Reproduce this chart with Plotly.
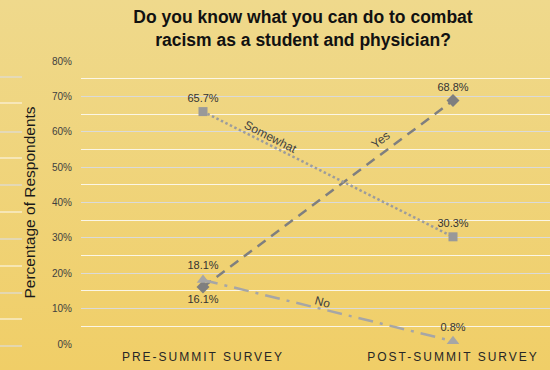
import base64
import plotly.graph_objects as go

# Survey data
stages = ["PRE-SUMMIT SURVEY", "POST-SUMMIT SURVEY"]
yes_pct = [16.1, 68.8]
somewhat_pct = [65.7, 30.3]
no_pct = [18.1, 0.8]
y_ticks = [0, 10, 20, 30, 40, 50, 60, 70, 80]

W, H = 550, 370
L, R, T, B = 81, 0, 61, 26
PW, PH = W - L - R, H - T - B

x_pos = list(range(len(stages)))
label_font = dict(family="Liberation Sans, Arial", size=11, color="#333333")

fig = go.Figure()

fig.add_trace(go.Scatter(
    x=x_pos, y=yes_pct, mode="lines+markers+text", name="Yes",
    line=dict(color="#7f7f7f", width=2.5, dash="10px,7px"),
    marker=dict(symbol="diamond", size=10, color="#7f7f7f"),
    text=[f"{v}%" for v in yes_pct], textposition=["bottom center", "top center"],
    textfont=label_font, cliponaxis=False,
))
fig.add_trace(go.Scatter(
    x=x_pos, y=somewhat_pct, mode="lines+markers+text", name="Somewhat",
    line=dict(color="#9c9c9c", width=2.5, dash="2.5px,2.5px"),
    marker=dict(symbol="square", size=9, color="#999999"),
    text=[f"{v}%" for v in somewhat_pct], textposition="top center",
    textfont=label_font, cliponaxis=False,
))
fig.add_trace(go.Scatter(
    x=x_pos, y=no_pct, mode="lines+markers+text", name="No",
    line=dict(color="#a6a6a6", width=2.5, dash="15px,7px,3px,7px"),
    marker=dict(symbol="triangle-up", size=11, color="#a6a6a6"),
    text=[f"{v}%" for v in no_pct], textposition="top center",
    textfont=label_font, cliponaxis=False,
))

# Series names written along their lines
line_labels = [
    ("Somewhat", 0.27, 58.6, 27),
    ("Yes", 0.71, 57.6, -37),
    ("No", 0.478, 12.0, 15),
]
for txt, lx, ly, ang in line_labels:
    fig.add_annotation(x=lx, y=ly, xref="x", yref="y", text=txt, showarrow=False,
                       textangle=ang,
                       font=dict(family="Liberation Sans, Arial", size=12, color="#404040"))

# Vertical gradient backdrop
svg = (
    f'<svg xmlns="http://www.w3.org/2000/svg" width="{W}" height="{H}" '
    f'viewBox="0 0 {W} {H}" preserveAspectRatio="none">'
    '<defs><linearGradient id="g" x1="0" y1="0" x2="0" y2="1">'
    '<stop offset="0" stop-color="#efd98c"/><stop offset="1" stop-color="#f0ce67"/>'
    '</linearGradient></defs>'
    f'<rect width="{W}" height="{H}" fill="url(#g)"/></svg>'
)
src = "data:image/svg+xml;base64," + base64.b64encode(svg.encode()).decode()
fig.add_layout_image(dict(
    source=src, xref="paper", yref="paper",
    x=-L / PW, y=1 + T / PH, sizex=W / PW, sizey=H / PH,
    xanchor="left", yanchor="top", sizing="stretch", layer="below",
))

# Short decorative stripes in the left margin
stripe_px = [77, 103, 132, 158, 185, 212, 239, 266, 293, 319, 346]
for i, py in enumerate(stripe_px):
    yp = (H - B - py) / PH
    fig.add_shape(type="line", xref="paper", yref="paper",
                  x0=-L / PW, x1=(22 - L) / PW, y0=yp, y1=yp,
                  line=dict(color="#dcdcdc" if i % 2 == 0 else "#fbf4e0", width=1.2),
                  layer="below")

fig.update_layout(
    width=W, height=H,
    margin=dict(l=L, r=R, t=T, b=B),
    paper_bgcolor="#f0d47c",
    plot_bgcolor="rgba(0,0,0,0)",
    showlegend=False,
    title=dict(
        text="<b>Do you know what you can do to combat<br>racism as a student and physician?</b>",
        x=303 / W, xref="container", xanchor="center",
        y=1 - 23 / H, yref="container", yanchor="top",
        font=dict(family="Liberation Sans, Arial", size=17.5, color="#111111"),
    ),
    font=dict(family="Liberation Sans, Arial"),
)

fig.update_xaxes(
    range=[-0.488, 1.388], tickvals=x_pos,
    ticktext=[f'<span style="letter-spacing:2px">{s}</span>' for s in stages],
    tickfont=dict(size=12, color="#262626"),
    showgrid=False, zeroline=False, showline=False, ticks="",
    ticklabelstandoff=4, fixedrange=True,
)
fig.update_yaxes(
    range=[0, 80], tickvals=y_ticks, ticktext=[f"{v}%" for v in y_ticks],
    tickfont=dict(size=10, color="#404040"),
    showgrid=True, gridcolor="#dadada", gridwidth=1,
    minor=dict(dtick=5, showgrid=True, gridcolor="#fbf6e6", gridwidth=1),
    zeroline=False, showline=False, ticks="",
    ticklabelstandoff=8,
    title=dict(text="Percentage of Respondents", standoff=12,
               font=dict(size=15.5, color="#1a1a1a")),
)

fig.write_html("out.html")
